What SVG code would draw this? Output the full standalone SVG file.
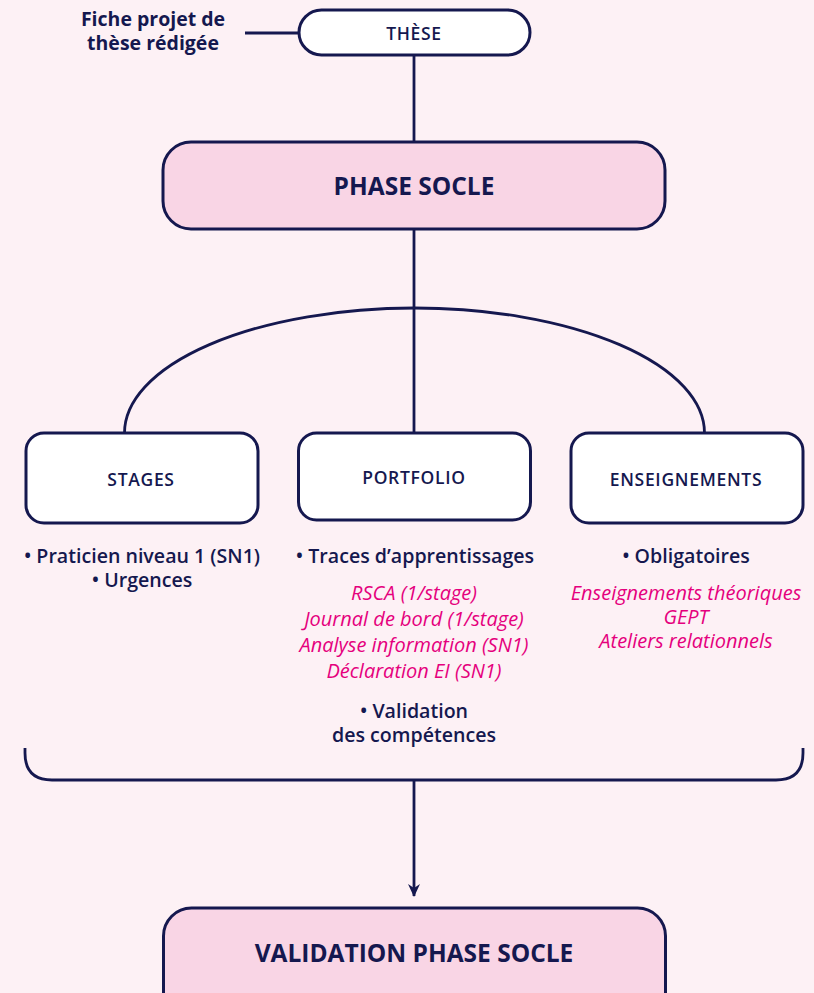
<svg xmlns="http://www.w3.org/2000/svg" width="814" height="993" viewBox="0 0 814 993">
<defs>
<style>
.bg{fill:#fdf1f5}
.ln{fill:none;stroke:#15184f;stroke-width:2.8}
.box{fill:#ffffff;stroke:#15184f;stroke-width:3}
.pbox{fill:#f9d5e5;stroke:#15184f;stroke-width:3}
text{font-family:"Open Sans","Noto Sans","DejaVu Sans",sans-serif;fill:#15184f;text-anchor:middle}
.lbl{font-size:17.5px;font-weight:600;letter-spacing:0.7px}
.big{font-size:24.5px;font-weight:700}
.itm{font-size:19.6px;font-weight:600}
.pk{font-size:20px;font-style:italic;fill:#e5007d}
.fc{font-size:19.5px;font-weight:700}
</style>
<marker id="arr" markerWidth="14" markerHeight="20" refX="12" refY="10" orient="auto" markerUnits="userSpaceOnUse">
<path d="M0,4 L13,10 L0,16 L4,10 Z" fill="#15184f"/>
</marker>
</defs>
<rect class="bg" x="0" y="0" width="814" height="993"/>

<g id="connectors">
<line class="ln" x1="245" y1="33" x2="299" y2="33"/>
<line class="ln" x1="414" y1="55" x2="414" y2="142"/>
<line class="ln" x1="414" y1="229" x2="414" y2="433"/>
<path class="ln" d="M124.5,433 A290,125 0 0 1 704.5,433"/>
<path class="ln" d="M25,748 V753 Q25,780 52,780 H776 Q803,780 803,753 V748"/>
<line class="ln" x1="414" y1="780" x2="414" y2="896" marker-end="url(#arr)"/>
</g>

<g id="fiche">
<text class="fc" x="153" y="26">Fiche projet de</text>
<text class="fc" x="153" y="50">thèse rédigée</text>
</g>

<g id="these">
<rect class="box" x="299" y="10" width="231" height="45" rx="22.5"/>
<text class="lbl" x="414" y="40">THÈSE</text>
</g>

<g id="phase-socle">
<rect class="pbox" x="163" y="142" width="502" height="87" rx="28"/>
<text class="big" x="414" y="195">PHASE SOCLE</text>
</g>

<g id="stages">
<rect class="box" x="26" y="433" width="232" height="90" rx="18"/>
<text class="lbl" x="141" y="486">STAGES</text>
<text class="itm" x="142" y="563">• Praticien niveau 1 (SN1)</text>
<text class="itm" x="142" y="587">• Urgences</text>
</g>

<g id="portfolio">
<rect class="box" x="298.5" y="433" width="232" height="87" rx="18"/>
<text class="lbl" x="414" y="484">PORTFOLIO</text>
<text class="itm" x="415" y="563">• Traces d’apprentissages</text>
<text class="pk" x="414" y="600">RSCA (1/stage)</text>
<text class="pk" x="414" y="626">Journal de bord (1/stage)</text>
<text class="pk" x="414" y="652">Analyse information (SN1)</text>
<text class="pk" x="414" y="678">Déclaration EI (SN1)</text>
<text class="itm" x="414" y="718">• Validation</text>
<text class="itm" x="414" y="742">des compétences</text>
</g>

<g id="enseignements">
<rect class="box" x="571" y="433" width="232" height="90" rx="18"/>
<text class="lbl" x="686" y="486">ENSEIGNEMENTS</text>
<text class="itm" x="686" y="563">• Obligatoires</text>
<text class="pk" x="686" y="600">Enseignements théoriques</text>
<text class="pk" x="686" y="624">GEPT</text>
<text class="pk" x="686" y="648">Ateliers relationnels</text>
</g>

<g id="validation-phase-socle">
<rect class="pbox" x="163.5" y="908" width="502" height="120" rx="28"/>
<text class="big" x="414" y="962">VALIDATION PHASE SOCLE</text>
</g>
</svg>
